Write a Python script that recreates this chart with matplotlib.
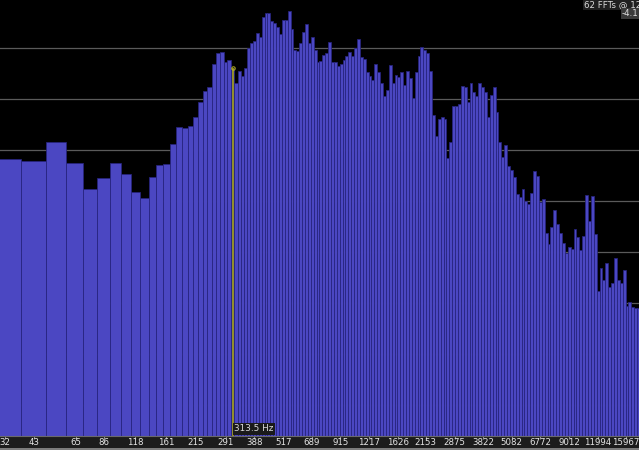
import numpy as np
import matplotlib
matplotlib.use("Agg")
import matplotlib.pyplot as plt

# FFT of 4096 points at 44.1 kHz -> width of one bin in Hz
bin_hz = 44100.0 / 4096

# Levels (dB) of the single FFT bins 3..34 (wide bars on the left)
bin_numbers = list(range(3, 35))
bin_levels = [-31.8, -32.2, -28.4, -32.5, -37.6, -35.5, -32.5, -34.7, -38.2, -39.4,
              -35.3, -32.9, -32.7, -28.8, -25.5, -25.7, -25.3, -23.5, -20.6, -18.4,
              -17.6, -13.1, -11.0, -10.8, -12.7, -12.4, -13.9, -16.9, -14.5, -15.5,
              -13.9, -10.0]

# Levels (dB) of the 1/24 octave bands above bin 34
band_levels = [-9.0, -8.6, -7.1, -7.8, -3.9, -3.1, -3.1, -4.7, -5.1, -5.9,
               -7.3, -4.5, -4.5, -2.7, -6.3, -10.4, -10.6, -9.0, -6.9, -5.3,
               -9.0, -7.8, -10.4, -12.7, -12.5, -11.4, -11.0, -8.8, -12.7, -12.7,
               -13.5, -13.1, -12.4, -11.6, -10.8, -11.6, -10.0, -8.2, -11.8, -12.2,
               -14.7, -15.5, -16.3,
               -13.1, -14.7, -16.9, -19.4, -18.2, -13.3, -16.9, -15.3, -15.7, -14.7,
               -17.3,
               -14.5, -15.9, -19.8, -14.7, -11.6, -9.8, -10.4, -11.0, -14.5, -23.1,
               -27.3, -23.9, -23.5, -23.9, -31.6, -28.4, -21.4, -21.4, -21.0, -17.5,
               -17.6, -20.6, -16.9, -18.6, -19.4, -16.9, -17.6, -18.6, -23.5, -19.2,
               -17.6, -22.5, -28.4, -31.4, -29.0, -33.1, -33.9, -35.3,
               -38.6, -39.2, -37.6, -40.0, -40.6, -38.4, -34.1, -35.1, -40.2, -39.6,
               -46.3, -48.4, -45.1, -41.8, -44.5, -46.3, -48.2, -50.2, -49.0, -49.4,
               -45.5, -47.1, -49.6, -46.9, -38.8, -43.9, -39.0, -46.5, -57.6, -53.1,
               -55.5, -52.2, -56.9, -56.1, -51.2, -55.5, -56.1, -53.5, -60.6, -59.8,
               -60.8, -61.0, -61.0]
bands_per_octave = 24

tick_hz = [32, 43, 65, 86, 118, 161, 215, 291, 388, 517, 689, 915, 1217, 1626,
           2153, 2875, 3822, 5082, 6772, 9012, 11994, 15967]
grid_db = [-10, -20, -30, -40, -50, -60, -70, -80]

cursor_hz = 313.5
cursor_db = -13.9
status_top = "62 FFTs @ 12"
status_value = "-4.1"

# Bar edges: single bins first, then constant log-width bands
bin_left = [(k - 0.5) * bin_hz for k in bin_numbers]
bin_width = [bin_hz] * len(bin_numbers)
band_start = (bin_numbers[-1] + 0.5) * bin_hz
band_edges = band_start * 2.0 ** (np.arange(len(band_levels) + 1) / bands_per_octave)
lefts = np.concatenate([bin_left, band_edges[:-1]])
widths = np.concatenate([bin_width, np.diff(band_edges)])
levels = np.array(bin_levels + band_levels)

x_lo, x_hi = 30.46, 18150.0
y_lo, y_hi = -86.08, -0.59

fig = plt.figure(figsize=(6.39, 4.50), dpi=100, facecolor="#7c7c7c")

# Main spectrum area
ax = fig.add_axes([0, 14 / 450, 1, 436 / 450])
ax.set_facecolor("black")
ax.set_xscale("log")
ax.set_xlim(x_lo, x_hi)
ax.set_ylim(y_lo, y_hi)
for g in grid_db:
    ax.axhline(g, color="#5a5a5a", lw=0.9, zorder=0)
ax.bar(lefts, levels - y_lo, width=widths, bottom=y_lo, align="edge",
       color="#4b47c2", edgecolor="#27247e", linewidth=0.55, zorder=2)
ax.vlines(cursor_hz, y_lo, cursor_db, color="#a8a400", lw=1.1, zorder=3)
ax.plot(cursor_hz, cursor_db, marker="o", ms=2.5, mfc="none", mec="#b8b420", mew=0.7, zorder=3)
ax.text(cursor_hz * 1.01, y_lo + 0.5, "313.5 Hz", fontsize=6.4, color="#dcdcdc",
        ha="left", va="bottom", zorder=4,
        bbox=dict(boxstyle="square,pad=0.15", fc="#1a1a1a", ec="none"))
ax.set_xticks([])
ax.set_yticks([])
ax.minorticks_off()
for s in ax.spines.values():
    s.set_visible(False)

# Frequency axis strip
ax2 = fig.add_axes([0, 2 / 450, 1, 12 / 450])
ax2.set_facecolor("#1c1c1c")
ax2.set_xscale("log")
ax2.set_xlim(x_lo, x_hi)
ax2.set_ylim(0, 1)
ax2.set_xticks(tick_hz)
ax2.set_xticklabels([])
ax2.minorticks_off()
ax2.tick_params(axis="x", direction="in", length=2, color="#8a8a8a", top=True, bottom=False)
ax2.set_yticks([])
for f in tick_hz:
    ax2.text(f, 0.42, str(f), fontsize=6.2, color="#e6e6e6", ha="center", va="center")
for name, s in ax2.spines.items():
    s.set_visible(name == "top")
ax2.spines["top"].set_color("#6a6a6a")

# Status text in the upper right corner
fig.text(584 / 639, 1 - 0.5 / 450, status_top, fontsize=6.2, color="#dcdcdc",
         ha="left", va="top", bbox=dict(boxstyle="square,pad=0.08", fc="#202020", ec="none"))
fig.text(622 / 639, 1 - 9 / 450, status_value, fontsize=6.2, color="#e0e0e0",
         ha="left", va="top", bbox=dict(boxstyle="square,pad=0.08", fc="#3a3a3a", ec="none"))

fig.savefig("out.png", dpi=100, facecolor=fig.get_facecolor())
